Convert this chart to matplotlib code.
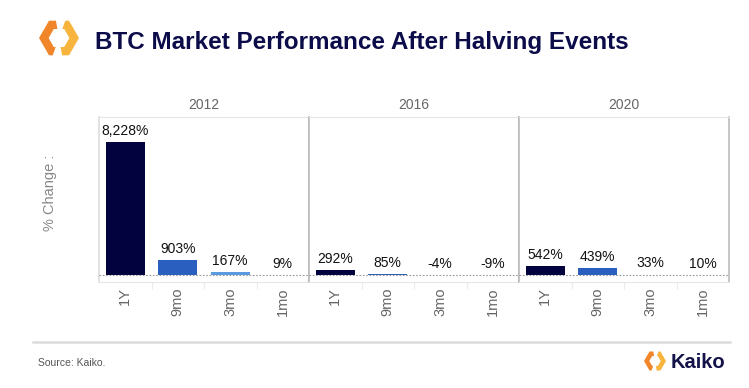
import numpy as np
import matplotlib.pyplot as plt
from matplotlib.patches import Polygon

plt.rcParams['font.family'] = ['Liberation Sans', 'DejaVu Sans']

# datos
years = ['2012', '2016', '2020']
periods = ['1Y', '9mo', '3mo', '1mo']
change_2012 = [8228, 903, 167, 9]
change_2016 = [292, 85, -4, -9]
change_2020 = [542, 439, 33, 10]
labels_2012 = ['8,228%', '903%', '167%', '9%']
labels_2016 = ['292%', '85%', '-4%', '-9%']
labels_2020 = ['542%', '439%', '33%', '10%']

values = [change_2012, change_2016, change_2020]
labels = [labels_2012, labels_2016, labels_2020]
colors = ['#02023f', '#2a5fbf', '#5c9ae0', '#c6dcf5']

W, H = 749, 388
fig = plt.figure(figsize=(W / 100, H / 100), dpi=100)


def px(x, y):
    return x / W, 1 - y / H


def hex_ring(cx, cy, r_out, r_in, a0, a1, n=60):
    # trozo de anillo hexagonal (vertices a izquierda y derecha)
    def rad(t, R):
        return R * np.cos(np.pi / 6) / np.cos(((t % (np.pi / 3)) - np.pi / 6))
    ts = np.linspace(np.radians(a0), np.radians(a1), n)
    outer = [(cx + rad(t, r_out) * np.cos(t), cy - rad(t, r_out) * np.sin(t)) for t in ts]
    inner = [(cx + rad(t, r_in) * np.cos(t), cy - rad(t, r_in) * np.sin(t)) for t in ts[::-1]]
    return [px(x, y) for x, y in outer + inner]


def logo(cx, cy, r):
    fig.patches.append(Polygon(hex_ring(cx, cy, r, r * 0.52, 100, 250), closed=True,
                               transform=fig.transFigure, color='#f0852a', lw=0))
    fig.patches.append(Polygon(hex_ring(cx, cy, r, r * 0.52, -80, 70), closed=True,
                               transform=fig.transFigure, color='#f7b53d', lw=0))


# cabecera
logo(59, 38, 20)
fig.text(*px(95, 43), 'BTC Market Performance After Halving Events', fontsize=17.5,
         fontweight='bold', color='#0c0c4a', va='center', ha='left')

# paneles
left, right = 99, 729
top, bottom = 117, 282
pw = (right - left) / 3
x = np.arange(len(periods))
axes = []
for i, yr in enumerate(years):
    l, b = px(left + i * pw, bottom)
    ax = fig.add_axes([l, b, pw / W, (bottom - top) / H])
    ax.bar(x, values[i], width=0.74, color=colors, zorder=2)
    ax.axhline(0, color='#999999', lw=0.8, ls=(0, (1.5, 1.5)), zorder=3)
    for xi, v, t in zip(x, values[i], labels[i]):
        ax.annotate(t, (xi, max(v, 0)), xytext=(0, 3), textcoords='offset points',
                    ha='center', va='bottom', fontsize=10, color='#111111')
    ax.set_xlim(-0.5, 3.5)
    ax.set_ylim(-430, 9780)
    ax.set_yticks([])
    ax.set_xticks(x)
    ax.set_xticklabels(periods, rotation=90, fontsize=10.5, color='#666666', va='top')
    ax.set_xticks(np.arange(0.5, 3.5, 1), minor=True)
    ax.tick_params(axis='x', which='major', length=0, pad=4)
    ax.tick_params(axis='x', which='minor', length=5, color='#ebebeb', width=0.8)
    ax.set_title(yr, fontsize=10, color='#666666', pad=6)
    for s in ['top', 'bottom']:
        ax.spines[s].set_color('#e6e6e6')
    ax.spines['left'].set_color('#bbbbbb' if i > 0 else '#dddddd')
    ax.spines['right'].set_color('#bbbbbb')
    ax.spines['left'].set_linewidth(1.2)
    ax.spines['right'].set_linewidth(1.2)
    axes.append(ax)

fig.text(*px(50, 193), '% Change :', rotation=90, fontsize=10.5, color='#888888',
         ha='center', va='center')

# pie
fig.add_artist(plt.Line2D([33 / W, 730 / W], [1 - 342 / H] * 2, color='#dcdcdc', lw=1.8))
fig.text(*px(38, 363), 'Source: Kaiko.', fontsize=7.5, color='#555555', va='center', ha='left')
logo(655, 361, 11)
fig.text(*px(671, 362), 'Kaiko', fontsize=14.5, fontweight='bold', color='#13134a',
         va='center', ha='left')

fig.savefig('out.png', dpi=100)
